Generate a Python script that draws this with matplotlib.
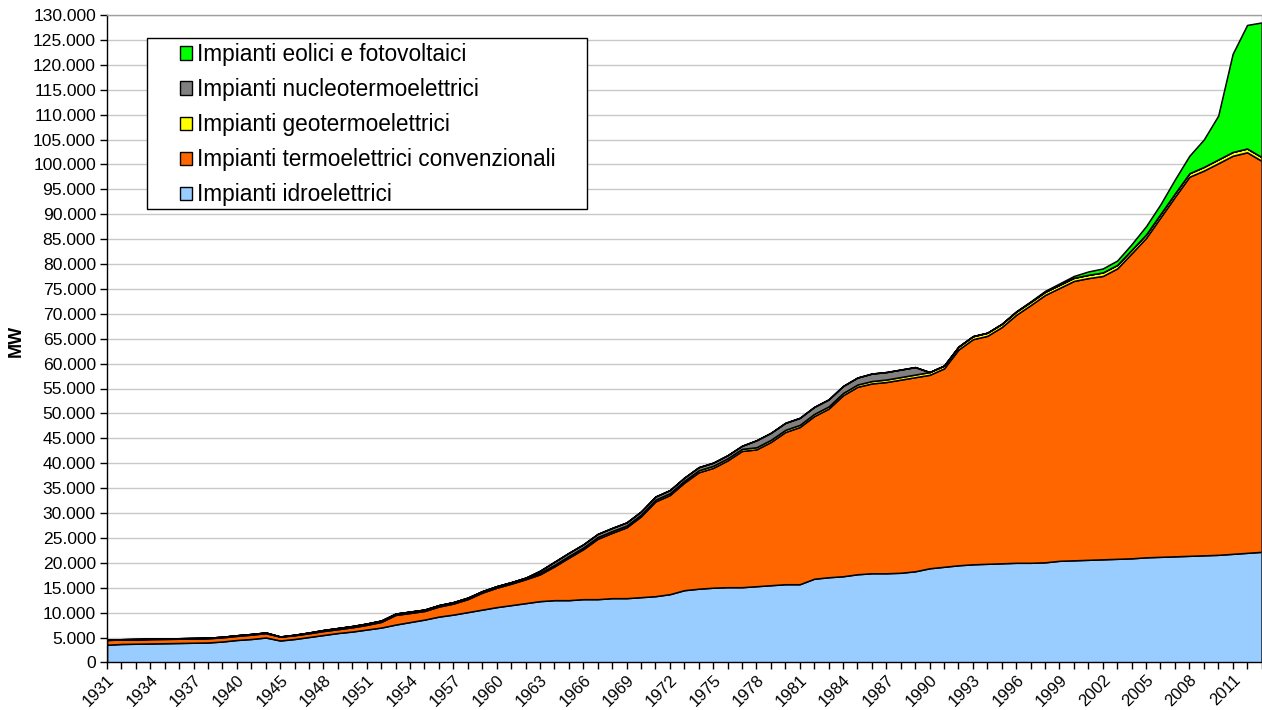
import matplotlib
matplotlib.use('Agg')
import matplotlib.pyplot as plt
from matplotlib.patches import Patch, Rectangle
from matplotlib.ticker import FuncFormatter, MultipleLocator

plt.rcParams['font.family'] = ['Liberation Sans', 'DejaVu Sans']

years = [1931, 1932, 1933, 1934, 1935, 1936, 1937, 1938, 1939, 1940,
         1941, 1942, 1945, 1946, 1947, 1948, 1949, 1950, 1951, 1952,
         1953, 1954, 1955, 1956, 1957, 1958, 1959, 1960, 1961, 1962,
         1963, 1964, 1965, 1966, 1967, 1968, 1969, 1970, 1971, 1972,
         1973, 1974, 1975, 1976, 1977, 1978, 1979, 1980, 1981, 1982,
         1983, 1984, 1985, 1986, 1987, 1988, 1989, 1990, 1991, 1992,
         1993, 1994, 1995, 1996, 1997, 1998, 1999, 2000, 2001, 2002,
         2003, 2004, 2005, 2006, 2007, 2008, 2009, 2010, 2011, 2012,
         2013]

hydro = [3550, 3700, 3750, 3800, 3850, 3900, 3950, 4000, 4200, 4500,
         4700, 5000, 4400, 4700, 5100, 5500, 5900, 6200, 6600, 7000,
         7600, 8100, 8600, 9200, 9600, 10100, 10600, 11100, 11500, 11900,
         12300, 12500, 12500, 12700, 12700, 12900, 12900, 13100, 13300, 13700,
         14500, 14800, 15000, 15100, 15100, 15300, 15500, 15700, 15700, 16800,
         17100, 17300, 17700, 17900, 17900, 18000, 18300, 18900, 19200, 19500,
         19700, 19800, 19900, 20000, 20000, 20100, 20400, 20500, 20600, 20700,
         20800, 20900, 21100, 21200, 21300, 21400, 21500, 21600, 21800, 22000,
         22200]

thermo = [950, 890, 880, 870, 860, 850, 850, 840, 830, 820,
          870, 870, 770, 750, 750, 800, 770, 850, 940, 1130,
          1930, 1820, 1720, 2020, 2210, 2610, 3400, 3900, 4300, 4790,
          5380, 6770, 8530, 10030, 12120, 13120, 14220, 16220, 19010, 19900,
          21590, 23370, 24060, 25460, 27360, 27470, 28760, 30560, 31560, 32650,
          33850, 36340, 37640, 38120, 38400, 38780, 38970, 38850, 39840, 43320,
          45200, 45780, 47440, 49800, 51750, 53680, 54790, 56100, 56570, 56900,
          58310, 61250, 64140, 68170, 72190, 76120, 77260, 78630, 79930, 80430,
          78530]

geo = [50, 60, 70, 80, 90, 100, 100, 110, 120, 130,
       130, 130, 30, 100, 150, 200, 230, 250, 260, 270,
       270, 280, 280, 280, 290, 290, 300, 300, 300, 310,
       320, 330, 350, 350, 360, 360, 360, 360, 370, 380,
       390, 410, 420, 420, 420, 430, 440, 440, 440, 450,
       450, 460, 460, 480, 500, 520, 530, 550, 560, 580,
       600, 620, 630, 630, 630, 630, 630, 630, 660, 710,
       710, 710, 710, 710, 710, 710, 740, 770, 770, 770,
       770]

nuclear = [0, 0, 0, 0, 0, 0, 0, 0, 0, 0,
           0, 0, 0, 0, 0, 0, 0, 0, 0, 0,
           0, 0, 0, 0, 0, 0, 0, 0, 0, 0,
           400, 600, 620, 620, 620, 620, 620, 620, 620, 620,
           620, 620, 620, 620, 620, 1400, 1400, 1400, 1400, 1400,
           1400, 1400, 1400, 1500, 1500, 1500, 1500, 0, 0, 0,
           0, 0, 0, 0, 0, 0, 0, 0, 0, 0,
           0, 0, 0, 0, 0, 0, 0, 0, 0, 0,
           0]

wind_solar = [0, 0, 0, 0, 0, 0, 0, 0, 0, 0,
              0, 0, 0, 0, 0, 0, 0, 0, 0, 0,
              0, 0, 0, 0, 0, 0, 0, 0, 0, 0,
              0, 0, 0, 0, 0, 0, 0, 0, 0, 0,
              0, 0, 0, 0, 0, 0, 0, 0, 0, 0,
              0, 0, 0, 0, 0, 0, 0, 0, 0, 0,
              0, 0, 30, 70, 120, 190, 280, 370, 670, 790,
              880, 1140, 1650, 1920, 2800, 3500, 5500, 8800, 19700, 24800,
              27000]

series_labels = ['Impianti idroelettrici',
                 'Impianti termoelettrici convenzionali',
                 'Impianti geotermoelettrici',
                 'Impianti nucleotermoelettrici',
                 'Impianti eolici e fotovoltaici']
colors = ['#99CCFF', '#FF6600', '#FFFF00', '#808080', '#00FF00']

W, H = 1262, 710
fig = plt.figure(figsize=(W / 100, H / 100), dpi=100)
left, right, top, bottom = 107, 1261.5, 15, 662.4
ax = fig.add_axes([left / W, (H - bottom) / H, (right - left) / W, (bottom - top) / H])

x = list(range(len(years)))
ax.stackplot(x, hydro, thermo, geo, nuclear, wind_solar,
             colors=colors, edgecolor='black', linewidth=1.1, zorder=2)

ax.set_xlim(0, len(years) - 1)
ax.set_ylim(0, 130000)
ax.yaxis.set_major_locator(MultipleLocator(5000))
ax.yaxis.set_major_formatter(FuncFormatter(lambda v, p: f"{int(round(v)):,}".replace(',', '.')))
ax.grid(axis='y', color='#C8C8C8', linewidth=1.0, zorder=0)
ax.set_axisbelow(True)

ax.set_xticks(x)
ax.set_xticklabels([str(y) if i % 3 == 0 else '' for i, y in enumerate(years)],
                   rotation=45, ha='right', va='top', rotation_mode='anchor')
ax.tick_params(axis='x', direction='out', length=5, width=1, color='black',
               labelsize=12, pad=2)
ax.tick_params(axis='y', direction='out', length=5, width=1, color='black',
               labelsize=12.6, pad=3)

for s in ['left', 'bottom']:
    ax.spines[s].set_color('black')
    ax.spines[s].set_linewidth(1.0)
for s in ['top', 'right']:
    ax.spines[s].set_color('#A0A0A0')
    ax.spines[s].set_linewidth(1.0)

fig.text(16 / W, 1 - 341 / H, 'MW', rotation=90, ha='center', va='center',
         fontsize=13, fontweight='bold')

# legend frame
def ax_x(px):
    return (px - left) / (right - left)

def ax_y(py):
    return (bottom - py) / (bottom - top)

frame = Rectangle((ax_x(147), ax_y(209)), ax_x(587) - ax_x(147), ax_y(38) - ax_y(209),
                  transform=ax.transAxes, facecolor='white', edgecolor='black',
                  linewidth=1.0, zorder=4)
ax.add_patch(frame)

handles = [Patch(facecolor=c, edgecolor='black', linewidth=1.0) for c in colors]
order = [4, 3, 2, 1, 0]
leg = ax.legend([handles[i] for i in order], [series_labels[i] for i in order],
                loc='upper left', bbox_to_anchor=(ax_x(180), ax_y(43)),
                frameon=False, fontsize=16.3, handlelength=0.52, handleheight=0.52,
                handletextpad=0.25, labelspacing=0.535, borderpad=0.0,
                borderaxespad=0.0)
leg.set_zorder(5)

fig.savefig('out.png', dpi=100)
